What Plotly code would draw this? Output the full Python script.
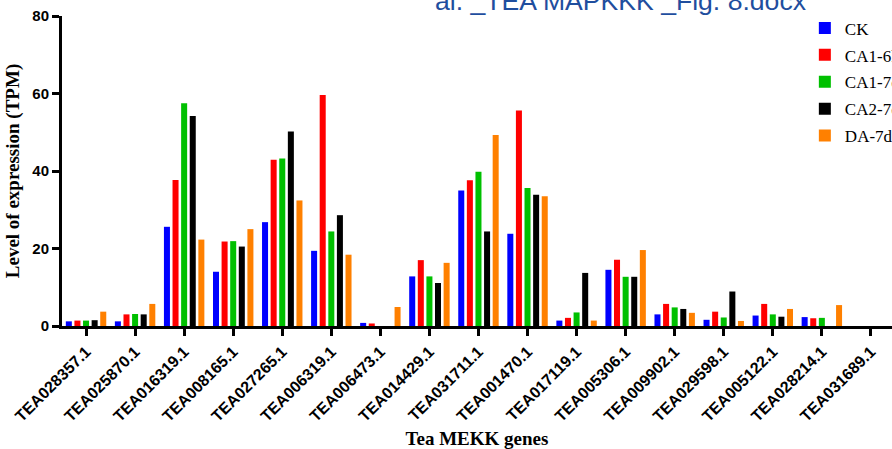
import plotly.graph_objects as go

# Tea MEKK genes (x categories)
genes = [
    "TEA028357.1", "TEA025870.1", "TEA016319.1", "TEA008165.1", "TEA027265.1",
    "TEA006319.1", "TEA006473.1", "TEA014429.1", "TEA031711.1", "TEA001470.1",
    "TEA017119.1", "TEA005306.1", "TEA009902.1", "TEA029598.1", "TEA005122.1",
    "TEA028214.1", "TEA031689.1",
]

# Expression level (TPM) per treatment
ck = [1.2, 1.2, 25.6, 14.0, 26.8, 19.4, 0.8, 12.8, 35.0, 23.8, 1.4, 14.5, 3.0, 1.6, 2.7, 2.3, 0.0]
ca1_6h = [1.4, 3.0, 37.7, 21.8, 42.9, 59.6, 0.65, 17.0, 37.6, 55.6, 2.1, 17.1, 5.7, 3.7, 5.7, 2.0, 0.0]
ca1_7d = [1.4, 3.1, 57.5, 21.9, 43.2, 24.4, 0.0, 12.8, 39.8, 35.6, 3.5, 12.7, 4.8, 2.2, 3.0, 2.1, 0.0]
ca2_7d = [1.5, 3.0, 54.2, 20.5, 50.2, 28.6, 0.0, 11.1, 24.4, 33.9, 13.7, 12.7, 4.4, 8.9, 2.4, 0.0, 0.0]
da_7d = [3.7, 5.7, 22.3, 25.0, 32.4, 18.4, 4.9, 16.3, 49.3, 33.5, 1.4, 19.6, 3.4, 1.3, 4.4, 5.4, 0.0]

series = [
    ("CK", ck, "#0000ff"),
    ("CA1-6h", ca1_6h, "#ff0000"),
    ("CA1-7d", ca1_7d, "#00c000"),
    ("CA2-7d", ca2_7d, "#000000"),
    ("DA-7d", da_7d, "#ff8000"),
]

y_ticks = [0, 20, 40, 60, 80]

SANS = "Arial, 'Liberation Sans', sans-serif"
SERIF = "'Times New Roman', 'Liberation Serif', serif"

fig = go.Figure()
for name, vals, color in series:
    fig.add_trace(go.Bar(
        x=genes, y=vals, name=name,
        marker=dict(color=color, line=dict(width=0)),
        legendgroup=name,
    ))

fig.update_layout(
    width=892, height=449,
    margin=dict(l=62, r=0, t=16, b=123, autoexpand=False),
    paper_bgcolor="white", plot_bgcolor="white",
    barmode="group", bargap=0.123, bargroupgap=0.3,
    showlegend=True,
    legend=dict(
        x=0.895, y=1.018, xanchor="left", yanchor="top",
        font=dict(family=SERIF, size=17, color="#000000"),
        bgcolor="rgba(0,0,0,0)",
        traceorder="grouped", tracegroupgap=1.8,
    ),
    xaxis=dict(
        type="category", range=[-0.49, 16.43],
        showline=True, linecolor="#000000", linewidth=3,
        ticks="outside", ticklen=7, tickwidth=3, tickcolor="#000000",
        tickangle=-45,
        tickfont=dict(family=SANS, size=16, color="#000000", weight="bold"),
        showgrid=False, zeroline=False, automargin=False,
        title=dict(text="<b>Tea MEKK genes</b>", standoff=10,
                   font=dict(family=SERIF, size=19, color="#000000")),
    ),
    yaxis=dict(
        range=[0, 80], tickvals=y_ticks,
        showline=True, linecolor="#000000", linewidth=3,
        ticks="outside", ticklen=7, tickwidth=3, tickcolor="#000000",
        tickfont=dict(family=SANS, size=15, color="#000000", weight="bold"),
        showgrid=False, zeroline=False, automargin=False,
        title=dict(text="<b>Level of expression (TPM)</b>", standoff=8,
                   font=dict(family=SERIF, size=19, color="#000000")),
    ),
)

# document file name shown across the top edge
fig.add_annotation(
    text="al. _TEA MAPKKK _Fig. 8.docx",
    xref="paper", yref="paper", x=0.447, y=0.992,
    xanchor="left", yanchor="bottom", showarrow=False,
    font=dict(family=SANS, size=26.6, color="#1f4e9e"),
)

fig.write_html("out.html")
